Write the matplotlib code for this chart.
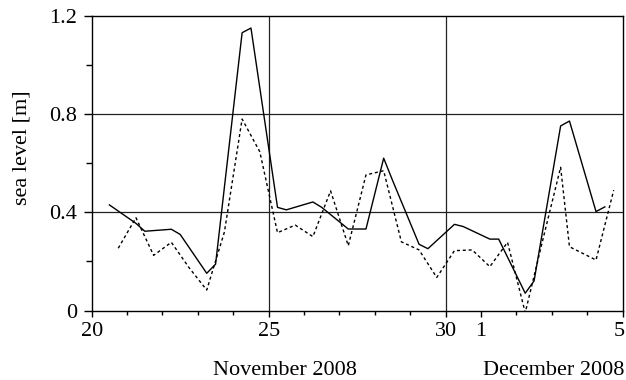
import numpy as np
import matplotlib.pyplot as plt
import matplotlib.transforms as mtransforms

plt.rcParams['font.family'] = ['Liberation Serif', 'DejaVu Serif']

# days counted from 1 Nov 2008 (31 = 1 Dec)
solid_x = [20.5, 21.25, 21.5, 22.25, 22.5, 23.25, 23.5, 24.25, 24.5, 25.25, 25.5,
           26.25, 26.5, 27.25, 27.75, 28.25, 28.5, 29.25, 29.5, 30.25, 30.5,
           31.25, 31.5, 32.25, 32.5, 33.25, 33.5, 34.25, 34.5]
solid_y = [0.43, 0.355, 0.323, 0.331, 0.31, 0.152, 0.189, 1.13, 1.149, 0.42, 0.41,
           0.442, 0.42, 0.332, 0.332, 0.62, 0.53, 0.27, 0.252, 0.351, 0.342,
           0.291, 0.291, 0.071, 0.121, 0.751, 0.771, 0.403, 0.422]

dash_x = [20.75, 21.25, 21.75, 22.25, 22.75, 23.25, 23.75, 24.25, 24.75, 25.25, 25.75,
          26.25, 26.75, 27.25, 27.75, 28.25, 28.75, 29.25, 29.75, 30.25, 30.75,
          31.25, 31.75, 32.25, 32.75, 33.25, 33.5, 34.25, 34.75]
dash_y = [0.254, 0.378, 0.225, 0.278, 0.175, 0.084, 0.32, 0.779, 0.646, 0.317, 0.348,
          0.301, 0.487, 0.264, 0.552, 0.569, 0.28, 0.247, 0.135, 0.244, 0.247,
          0.179, 0.278, -0.008, 0.29, 0.583, 0.26, 0.206, 0.49]

xticks = [20, 25, 30, 31, 35]
xticklabels = ['20', '25', '30', '1', '5']
yticks = [0, 0.4, 0.8, 1.2]
yticklabels = ['0', '0.4', '0.8', '1.2']

fig = plt.figure(figsize=(6.26, 3.8), dpi=100)
ax = fig.add_axes([0.1465, 0.1824, 0.848, 0.7768])

for xv in [25, 30]:
    ax.axvline(xv, color='#222222', lw=0.9, zorder=1)
for yv in [0.4, 0.8]:
    ax.axhline(yv, color='#222222', lw=0.9, zorder=1)

ax.plot(solid_x, solid_y, color='black', lw=1.0, zorder=3)
ax.plot(dash_x, dash_y, color='black', lw=1.0, linestyle=(0, (2.2, 2.0)), zorder=3)

ax.set_xlim(20, 35)
ax.set_ylim(0, 1.2)
ax.set_xticks(xticks)
ax.set_xticklabels(xticklabels)
ax.set_xticks(np.arange(20, 36, 1), minor=True)
ax.set_yticks(yticks)
ax.set_yticklabels(yticklabels)
ax.set_yticks([0.2, 0.6, 1.0], minor=True)
ax.tick_params(axis='x', which='major', direction='out', length=4.3, width=1, labelsize=16, pad=4)
ax.tick_params(axis='x', which='minor', direction='out', length=2.9, width=1)
ax.tick_params(axis='y', which='major', direction='out', length=5.8, width=1, labelsize=16, pad=4.5)
ax.tick_params(axis='y', which='minor', direction='out', length=4.3, width=1)
for s in ax.spines.values():
    s.set_linewidth(1)

# last tick label sits at the figure edge; nudge it left a little
lab5 = ax.get_xticklabels()[-1]
lab5.set_transform(lab5.get_transform() + mtransforms.ScaledTranslation(-3 / 100, 0, fig.dpi_scale_trans))

ax.set_ylabel('sea level [m]', fontsize=16)
ax.yaxis.set_label_coords(-0.113, 0.551)

trans = mtransforms.blended_transform_factory(ax.transData, ax.transAxes)
ax.text(25.47, -0.218, 'November 2008', transform=trans, ha='center', va='baseline', fontsize=16)
ax.text(35.05, -0.218, 'December 2008', transform=trans, ha='right', va='baseline', fontsize=16)

plt.savefig('out.png', dpi=100)
plt.close()
